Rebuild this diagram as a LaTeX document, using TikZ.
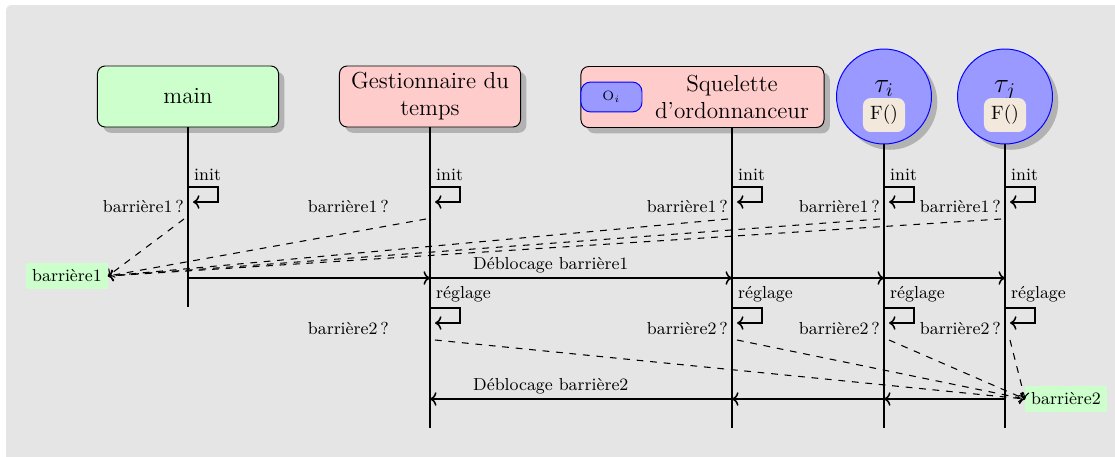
\documentclass[tikz,border=0pt]{standalone}
\usepackage{fontspec}
\usepackage{amsmath}
\usepackage{xcolor}
\usepackage{tikz}
\usetikzlibrary{arrows.meta, positioning, calc, shadows}

\definecolor{bgGray}{HTML}{E5E5E5}
\definecolor{fBeige}{HTML}{F2E8DC}

\begin{document}
\begin{tikzpicture}[
        x=0.518pt, y=-0.518pt,
        actor/.style={
            rectangle, rounded corners=4pt, draw=black, line width=0.5pt,
            drop shadow={shadow xshift=3pt, shadow yshift=-3pt},
            minimum width=93.8pt, minimum height=31.6pt,
            align=center, font=\large, inner sep=1pt
        },
        task/.style={
            circle, draw=blue, fill=blue!40, line width=0.5pt, minimum size=49.2pt,
            inner sep=0pt, drop shadow={shadow xshift=3pt, shadow yshift=-3pt}
        },
        func/.style={
            rectangle, rounded corners=4pt, fill=fBeige, minimum width=21.8pt,
            minimum height=17.6pt, inner sep=2pt
        },
        obj/.style={
            rectangle, rounded corners=5pt, draw=blue, fill=blue!40, line width=0.5pt,
            minimum width=31.6pt, minimum height=15.5pt, font=\scriptsize
        },
        life/.style={line width=1.2pt, black},
        msg/.style={->, thick},
        selfloop/.style={->, thick},
        wait/.style={->, line width=0.55pt, dash pattern=on 3.5pt off 3.5pt},
        evlbl/.style={font=\small, inner sep=3pt},
        barr/.style={fill=green!20, font=\small, inner sep=3pt, minimum height=13.5pt}
    ]
    % === Background ===
    \useasboundingbox (0,0) rectangle (1115,456);
    \begin{scope}
        \clip (0,0) rectangle (1115,456);
        \fill[bgGray, rounded corners=3pt] (6,5) rectangle (1130,470);
    \end{scope}

    % === Lifeline heads ===
    \node[actor, fill=green!20] (main) at (188,96.5) {main};
    \node[actor, fill=red!20] (gest) at (430,96.5) {Gestionnaire du\\temps};
    \node[actor, fill=red!20, minimum width=125.9pt] (sqbox) at (702.5,97) {};
    \node[font=\large, align=center, inner sep=0pt] (sq) at (732,97) {Squelette\\d'ordonnanceur};
    \node[obj, anchor=west] (oi) at (sqbox.west) {O$_i$};

    \node[task] (ti) at (884,96.5) {};
    \node[font=\Large, anchor=base] (ti-name) at (884,92) {$\tau_i$};
    \node[func] (ti-f) at (884,115) {F()};
    \node[task] (tj) at (1005,96.5) {};
    \node[font=\Large, anchor=base] (tj-name) at (1005,92) {$\tau_j$};
    \node[func] (tj-f) at (1005,115) {F()};

    % === Event points ===
    \foreach \n/\x in {main/188, gest/430, sq/732, ti/884, tj/1005} {
        \coordinate (\n-init) at (\x,187);
        \coordinate (\n-q1) at (\x-4,219);
        \coordinate (\n-a) at (\x,278);
        \coordinate (\n-regl) at (\x,308);
        \coordinate (\n-q2) at (\x+5,340);
        \coordinate (\n-b) at (\x,399);
        \coordinate (\n-end) at (\x,428);
    }
    \coordinate (main-end) at (188,307);

    % === Lifelines ===
    \draw[life] (main) -- (main-end);
    \draw[life] (gest) -- (gest-end);
    \draw[life] (sq |- sqbox.south) -- (sq-end);
    \draw[life] (ti) -- (ti-end);
    \draw[life] (tj) -- (tj-end);

    % === Barrier nodes ===
    \node[barr] (b1) at (67,276) {barrière1};
    \node[barr] (b2) at (1066,399) {barrière2};

    % === init + barrière1 ? ===
    \foreach \n/\lx in {main/190, gest/395, sq/734, ti/886, tj/1007} {
        \draw[selfloop] (\n-init) -- ++(30,0) -- ++(0,15) -- ++(-25,0);
        \node[evlbl, anchor=south west] (\n-initlbl) at (\n-init) {init};
        \node[evlbl, anchor=east] (\n-w1) at (\lx,206) {barrière1\,?};
        \draw[wait] (\n-q1) -- (b1.east);
    }

    % === réglage + barrière2 ? ===
    \foreach \n/\lx in {gest/395, sq/734, ti/886, tj/1007} {
        \draw[selfloop] (\n-regl) -- ++(30,0) -- ++(0,15) -- ++(-25,0);
        \node[evlbl, anchor=south west] (\n-regllbl) at (\n-regl) {réglage};
        \node[evlbl, anchor=east] (\n-w2) at (\lx,328) {barrière2\,?};
        \draw[wait] (\n-q2) -- (b2.west);
    }

    % === Release messages ===
    \draw[msg] (main-a) -- (gest-a);
    \draw[msg] (gest-a) -- node[evlbl, above, pos=0.4, inner sep=2pt] (deb1) {Déblocage barrière1} (sq-a);
    \draw[msg] (sq-a) -- (ti-a);
    \draw[msg] (ti-a) -- (tj-a);

    \draw[msg] (tj-b) -- (ti-b);
    \draw[msg] (ti-b) -- (sq-b);
    \draw[msg] (sq-b) -- node[evlbl, above, pos=0.6, inner sep=2pt] (deb2) {Déblocage barrière2} (gest-b);

\end{tikzpicture}
\end{document}
